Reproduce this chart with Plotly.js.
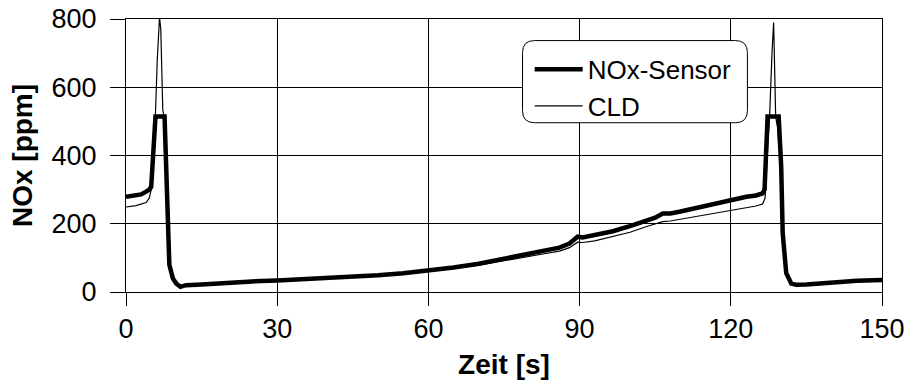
<!DOCTYPE html>
<html>
<head>
<meta charset="utf-8">
<script src="https://cdn.plot.ly/plotly-3.0.1.min.js"></script>
<style>
html,body{margin:0;padding:0;background:#fff;}
#chart{width:911px;height:383px;}
</style>
</head>
<body>
<div id="chart"></div>
<script>
// NOx-Sensor (thick line)
const sensorTime = [0,1,2,3,4,4.6,5.0,5.3,5.65,5.85,7.65,7.97,8.3,8.6,9.3,10.0,10.8,11.9,15,20,25,30,35,40,45,50,55,60,65,70,75,80,83,86,88,89.6,90.6,93,96.6,100,103.3,105,106.5,108,109.8,113,116.4,120.4,123.1,125,126.3,126.7,127.1,127.3,129.5,130,130.3,130.7,131,132,133,135,140,145,150];
const sensorNOx  = [279,281,283,286,294,300,308,397,485,514,514,367,172,80,40,24,15,20,22,28,31,34,37,40,44,49,55,62,72,83,97,113,121,130,142,162,160,167,178,193,211,218,230,230,235,246,258,271,279,283,289,300,450,514,514,367,172,90,55,25,21,22,28,33,35];

// CLD (thin line)
const cldTime = [0,2,4,4.6,5.0,5.5,5.85,6.2,6.5,6.65,6.9,7.3,7.65,7.97,8.3,8.6,9.3,10.0,10.8,11.9,15,20,25,30,35,40,45,50,55,60,65,70,75,80,83,86,88,89.6,90.6,93,96.6,100,103.3,105,106.5,108,110,113,116.4,120.4,123.1,125,126.3,126.8,127.3,127.7,128.2,128.5,128.9,129.3,129.6,130,130.3,130.7,131,132,133,135,140,145,150];
const cldNOx  = [249,253,262,275,300,430,524,680,798,805,770,534,505,360,165,75,38,22,14,18,21,27,30,33,36,39,43,47,53,60,69,79,91,104,112,120,130,146,145,150,162,175,192,199,206,208,213,222,230,240,248,252,258,275,420,514,710,790,514,480,420,360,165,85,50,22,19,21,27,32,34];

const seriesNames = ['NOx-Sensor','CLD'];
const xTicks = [0,30,60,90,120,150];
const yTicks = [0,200,400,600,800];
const xTitle = 'Zeit [s]';
const yTitle = 'NOx [ppm]';

const FONT = "'Liberation Sans', Arial, sans-serif";

const traces = [
  {x: sensorTime, y: sensorNOx, name: seriesNames[0], type: 'scatter', mode: 'lines',
   line: {color: '#000', width: 4.5}},
  {x: cldTime, y: cldNOx, name: seriesNames[1], type: 'scatter', mode: 'lines',
   line: {color: '#000', width: 1.2}}
];

// rounded legend frame (paper coords)
const lx0 = 0.5245, lx1 = 0.822, ly0 = 0.62, ly1 = 0.921;
const rx = 12/756, ry = 12/272;
const framePath = `M${lx0+rx},${ly1} L${lx1-rx},${ly1} Q${lx1},${ly1} ${lx1},${ly1-ry} L${lx1},${ly0+ry} Q${lx1},${ly0} ${lx1-rx},${ly0} L${lx0+rx},${ly0} Q${lx0},${ly0} ${lx0},${ly0+ry} L${lx0},${ly1-ry} Q${lx0},${ly1} ${lx0+rx},${ly1} Z`;

const layout = {
  width: 911, height: 383,
  margin: {l: 126, r: 29, t: 19, b: 91, pad: 0},
  paper_bgcolor: '#fff', plot_bgcolor: '#fff',
  font: {family: FONT, color: '#000', size: 27},
  showlegend: true,
  legend: {x: 0.534, y: 0.902, xanchor: 'left', yanchor: 'top',
           bgcolor: 'rgba(0,0,0,0)', borderwidth: 0,
           font: {family: FONT, size: 26, color: '#000'}, itemwidth: 48},
  shapes: [{type: 'path', xref: 'paper', yref: 'paper', path: framePath,
            fillcolor: '#fff', line: {color: '#000', width: 1}, layer: 'above'}],
  xaxis: {range: [0, 150], tickvals: xTicks, ticktext: xTicks.map(String),
          showgrid: true, gridcolor: '#000', gridwidth: 1, zeroline: false,
          showline: true, linecolor: '#000', linewidth: 1, mirror: true,
          ticks: 'outside', ticklen: 13, tickcolor: '#000', tickwidth: 1,
          tickfont: {family: FONT, size: 27, color: '#000'},
          title: {text: xTitle, font: {family: FONT, size: 28, color: '#000', weight: 'bold'}, standoff: 10},
          automargin: false},
  yaxis: {range: [0, 800], tickvals: yTicks, ticktext: yTicks.map(String),
          showgrid: true, gridcolor: '#000', gridwidth: 1, zeroline: false,
          showline: true, linecolor: '#000', linewidth: 1, mirror: true,
          ticks: 'outside', ticklen: 15, tickcolor: '#000', tickwidth: 1,
          ticklabelstandoff: 8,
          tickfont: {family: FONT, size: 27, color: '#000'},
          title: {text: yTitle, font: {family: FONT, size: 28, color: '#000', weight: 'bold'}, standoff: 10},
          automargin: false}
};

Plotly.newPlot('chart', traces, layout, {displayModeBar: false, staticPlot: true});
</script>
</body>
</html>
